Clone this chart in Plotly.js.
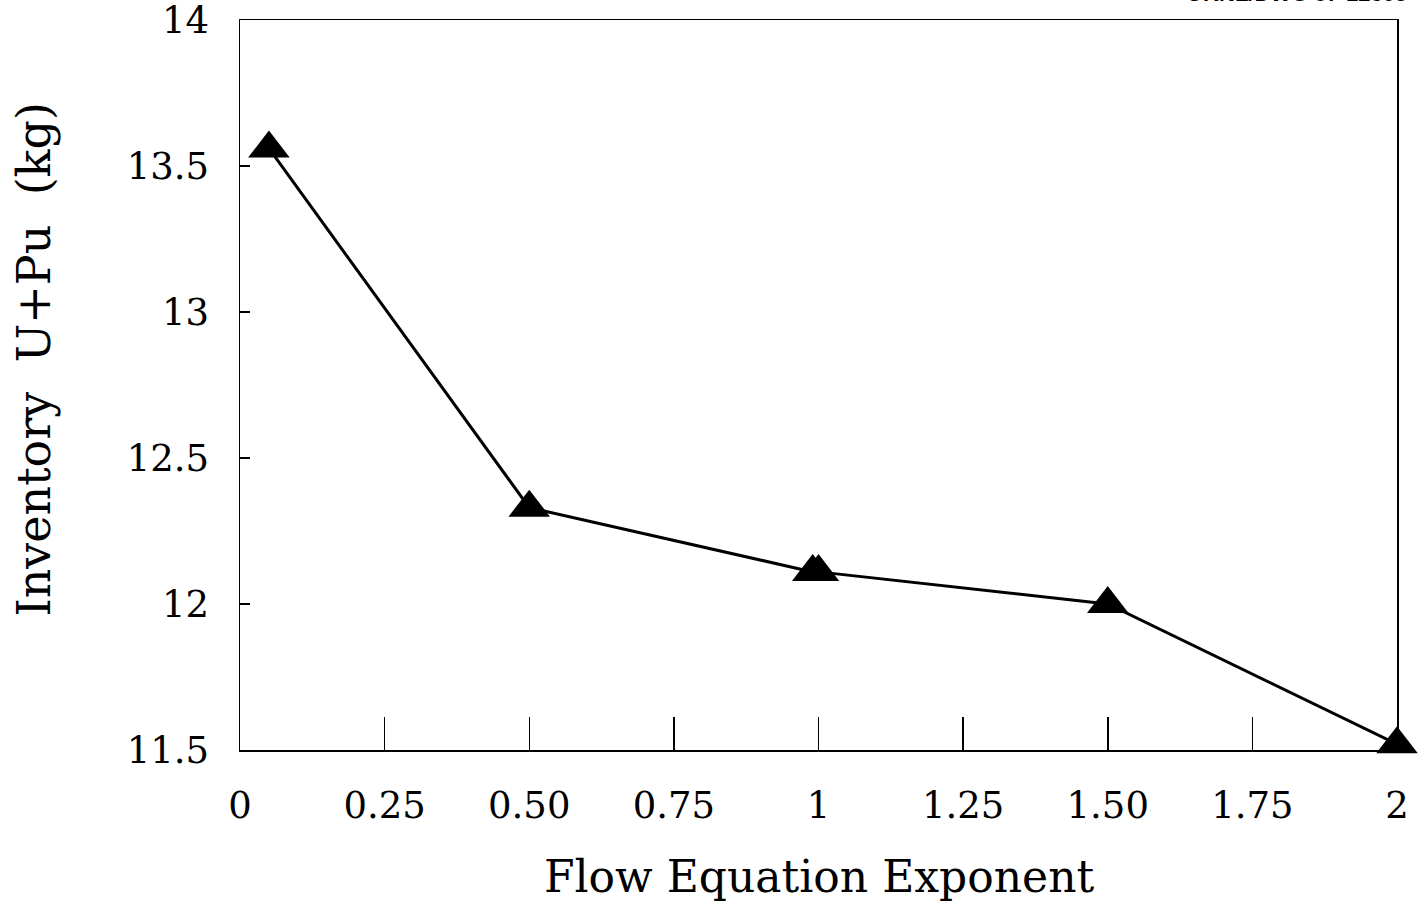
<!DOCTYPE html>
<html>
<head>
<meta charset="utf-8">
<script src="https://cdn.plot.ly/plotly-3.0.1.min.js"></script>
<style>html,body{margin:0;padding:0;background:#fff;}#chart{width:1427px;height:906px;}</style>
</head>
<body>
<div id="chart"></div>
<script>
// Data
const exponent  = [0.05, 0.5, 0.99, 1.0, 1.5, 2.0];
const inventory = [13.56, 12.33, 12.11, 12.11, 12.0, 11.52];

const xTickVals = [0, 0.25, 0.5, 0.75, 1, 1.25, 1.5, 1.75, 2];
const xTickText = ["0", "0.25", "0.50", "0.75", "1", "1.25", "1.50", "1.75", "2"];
const yTickVals = [11.5, 12, 12.5, 13, 13.5, 14];
const yTickText = ["11.5", "12", "12.5", "13", "13.5", "14"];

const xTitle = "Flow Equation Exponent";
const yTitle = "Inventory  U+Pu  (kg)";
const drawingId = "ORNL/DWG 87-12305";

const serif = "DejaVu Serif, Liberation Serif, serif";

Plotly.newPlot("chart", [{
  x: exponent,
  y: inventory,
  type: "scatter",
  mode: "lines+markers",
  line: {color: "#000", width: 3},
  marker: {symbol: "triangle-up", size: 36, color: "#000", line: {width: 0}},
  cliponaxis: false,
  showlegend: false
}], {
  width: 1427, height: 906,
  paper_bgcolor: "#fff", plot_bgcolor: "#fff",
  margin: {l: 240, r: 30, t: 20, b: 156},
  xaxis: {
    range: [0, 2], tickvals: xTickVals, ticktext: xTickText,
    ticks: "inside", ticklen: 33, tickwidth: 1.5, tickcolor: "#000",
    showline: true, mirror: true, linecolor: "#000", linewidth: 1.5,
    showgrid: false, zeroline: false,
    tickfont: {family: serif, size: 37, color: "#000"},
    ticklabelstandoff: 22, ticklabeloverflow: "allow"
  },
  yaxis: {
    range: [11.5, 14], tickvals: yTickVals, ticktext: yTickText,
    ticks: "inside", ticklen: 10, tickwidth: 1.5, tickcolor: "#000",
    showline: true, mirror: true, linecolor: "#000", linewidth: 1.5,
    showgrid: false, zeroline: false,
    tickfont: {family: serif, size: 37, color: "#000"},
    ticklabelstandoff: 22, ticklabeloverflow: "allow"
  },
  annotations: [
    {text: xTitle, xref: "paper", yref: "paper", x: 0.5, y: -0.135, xanchor: "center", yanchor: "top",
     showarrow: false, font: {family: serif, size: 44, color: "#000"}},
    {text: yTitle, xref: "paper", yref: "paper", x: -0.178, y: 0.535, xanchor: "center", yanchor: "middle",
     textangle: -90, showarrow: false, font: {family: serif, size: 46, color: "#000"}},
    {text: "<b>" + drawingId + "</b>", xref: "paper", yref: "paper", x: 1.01, y: 1.017, xanchor: "right", yanchor: "bottom",
     showarrow: false, font: {family: "Liberation Sans, Arial, sans-serif", size: 22, color: "#000"}}
  ]
}, {displayModeBar: false, staticPlot: true});
</script>
</body>
</html>
